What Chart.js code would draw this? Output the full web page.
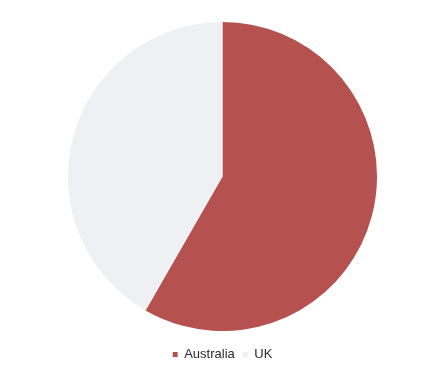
<!DOCTYPE html>
<html>
<head>
<meta charset="utf-8">
<script src="https://cdn.jsdelivr.net/npm/chart.js@4"></script>
<style>
    html, body { margin: 0; padding: 0; background: #ffffff; }
    #wrap { width: 433px; height: 370px; }
</style>
</head>
<body>
<div id="wrap"><canvas id="pieChart" width="433" height="370"></canvas></div>
<script>
const countries = ['Australia', 'UK'];
const shares = [58.3, 41.7];
const sliceColors = ['#b5514f', '#eef0f3'];

document.addEventListener('DOMContentLoaded', function() {
    const ctx = document.getElementById('pieChart').getContext('2d');
    new Chart(ctx, {
        type: 'pie',
        data: {
            labels: countries,
            datasets: [{
                data: shares,
                backgroundColor: sliceColors,
                borderWidth: 0
            }]
        },
        options: {
            responsive: false,
            animation: false,
            layout: {
                padding: { top: 22, bottom: -1, left: 12, right: 0 }
            },
            plugins: {
                legend: {
                    position: 'bottom',
                    // empty title only used as a spacer above the items
                    title: { display: true, text: '', padding: 0, font: { size: 7.5 } },
                    labels: {
                        boxWidth: 5,
                        boxHeight: 5,
                        padding: 8,
                        color: '#2a2a2a',
                        font: { family: 'Liberation Sans', size: 13 }
                    }
                },
                tooltip: { enabled: false }
            }
        }
    });
});
</script>
</body>
</html>
